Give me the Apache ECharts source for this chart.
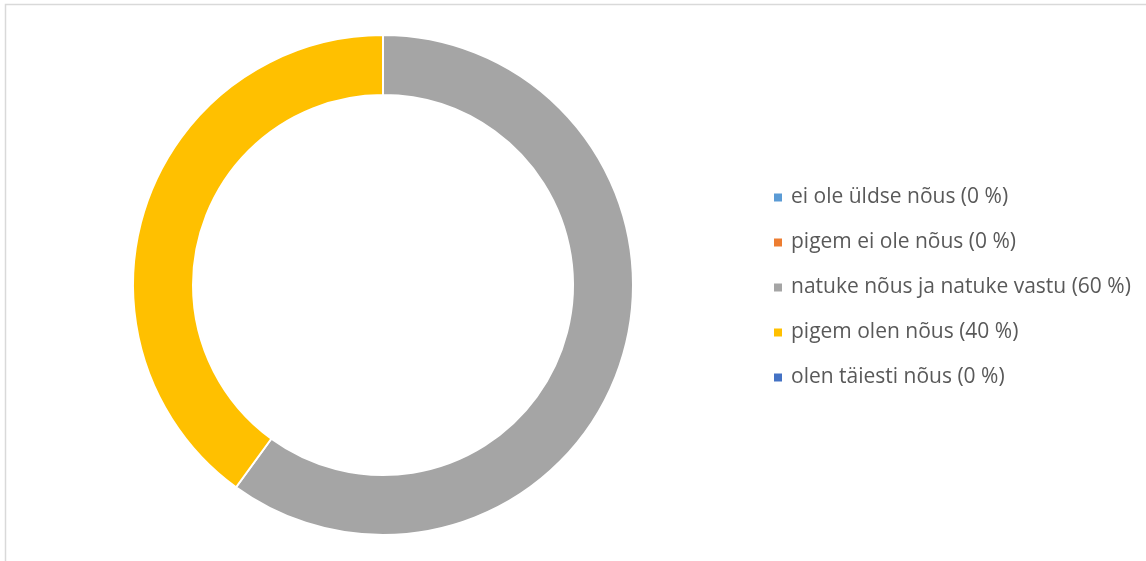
<!DOCTYPE html>
<html>
<head>
<meta charset="utf-8">
<script src="https://cdn.jsdelivr.net/npm/echarts@6/dist/echarts.min.js"></script>
<style>
  html, body { margin: 0; padding: 0; background: #fff; }
  #chart { width: 1146px; height: 561px; }
</style>
</head>
<body>
<div id="chart"></div>
<script>
const categories = [
  "ei ole üldse nõus",
  "pigem ei ole nõus",
  "natuke nõus ja natuke vastu",
  "pigem olen nõus",
  "olen täiesti nõus",
];
const values = [0, 0, 60, 40, 0];
const colors = ["#5B9BD5", "#ED7D31", "#A5A5A5", "#FFC000", "#4472C4"];

const total = values.reduce((a, b) => a + b, 0);
const labelFor = (name) => {
  const i = categories.indexOf(name);
  const pct = Math.round((values[i] / total) * 100);
  return `${name} (${pct} %)`;
};

const chart = echarts.init(document.getElementById("chart"), null, { renderer: "canvas" });
chart.setOption({
  backgroundColor: "#fff",
  animation: false,
  color: colors,
  graphic: [
    {
      type: "rect",
      shape: { x: 5.5, y: 4.5, width: 1160, height: 600 },
      style: { fill: "none", stroke: "#D9D9D9", lineWidth: 1.5 },
      silent: true,
    },
  ],
  legend: {
    orient: "vertical",
    left: 774,
    top: 187,
    padding: 0,
    itemWidth: 8,
    itemHeight: 8,
    itemGap: 24,
    icon: "rect",
    itemStyle: { borderWidth: 0 },
    formatter: labelFor,
    textStyle: {
      color: "#595959",
      fontSize: 21,
      lineHeight: 21,
      fontFamily: "Open Sans",
      padding: [0, 0, 0, 4],
    },
  },
  series: [
    {
      type: "pie",
      center: [383, 285],
      radius: [190, 250],
      startAngle: 90,
      clockwise: true,
      label: { show: false },
      labelLine: { show: false },
      itemStyle: { borderColor: "#fff", borderWidth: 2 },
      emphasis: { disabled: true },
      data: categories.map((name, i) => ({ name, value: values[i] })),
    },
  ],
});
</script>
</body>
</html>
